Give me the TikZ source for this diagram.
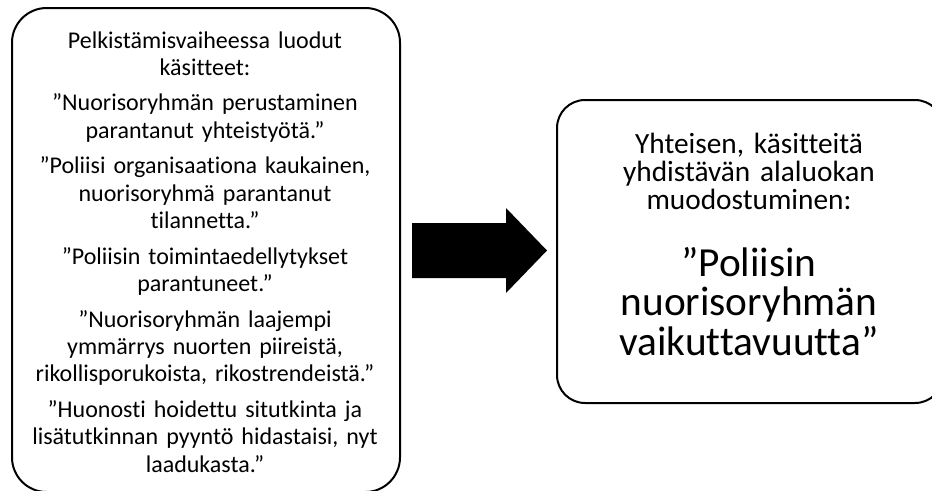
\documentclass[tikz,border=0pt]{standalone}
\usepackage{fontspec}
\setmainfont{Carlito}[Ligatures=NoCommon]
\usetikzlibrary{calc}

\tikzset{
  roundbox/.style={draw=black, line width=1.5pt, inner sep=0pt},
  boxtext/.style={align=center, inner sep=0pt, anchor=base},
}

\begin{document}
\begin{tikzpicture}[x=0.75pt, y=-0.75pt]
		%%%%% START %%%%%
		\useasboundingbox (0, 0) rectangle (932, 490);
		\clip (0, 0) rectangle (932, 490);
		
		% boxes
		\node[roundbox, rounded corners=26pt, minimum width=291pt, minimum height=363pt] (leftbox) at (206, 250) {};
		\node[roundbox, rounded corners=21pt, minimum width=289.5pt, minimum height=227.25pt] (rightbox) at (750, 251.5) {};
		
		% texts
		\node[boxtext, text width=285pt, font=\fontsize{18}{20.5}\selectfont] (lefttext) at (205, 48)
			{Pelkistämisvaiheessa luodut\\ käsitteet:\\[6.2pt]
			 ”Nuorisoryhmän perustaminen\\ parantanut yhteistyötä.”\\[6.2pt]
			 ”Poliisi organisaationa kaukainen,\\ nuorisoryhmä parantanut\\ tilannetta.”\\[6.2pt]
			 ”Poliisin toimintaedellytykset\\ parantuneet.”\\[6.2pt]
			 ”Nuorisoryhmän laajempi\\ ymmärrys nuorten piireistä,\\ rikollisporukoista, rikostrendeistä.”\\[6.2pt]
			 ”Huonosti hoidettu situtkinta ja\\ lisätutkinnan pyyntö hidastaisi, nyt\\ laadukasta.”};
		\node[boxtext, text width=285pt, font=\fontsize{22}{21}\selectfont] (righttext) at (749, 153)
			{Yhteisen, käsitteitä\\ yhdistävän alaluokan\\ muodostuminen:\par\vspace{21pt}
			 {\fontsize{31}{29.5}\selectfont ”Poliisin\\ nuorisoryhmän\\ vaikuttavuutta”\par}};
		
		% block arrow
		\fill ($(leftbox.east)+(11, -27)$) -- ++(94, 0) -- ++(0, -15) -- ($(rightbox.west)+(-9, -1)$)
			-- ($(leftbox.east)+(105, 43)$) -- ++(0, -15) -- ++(-94, 0) -- cycle;
		
		%%%%% END %%%%%
	\end{tikzpicture}
\end{document}
